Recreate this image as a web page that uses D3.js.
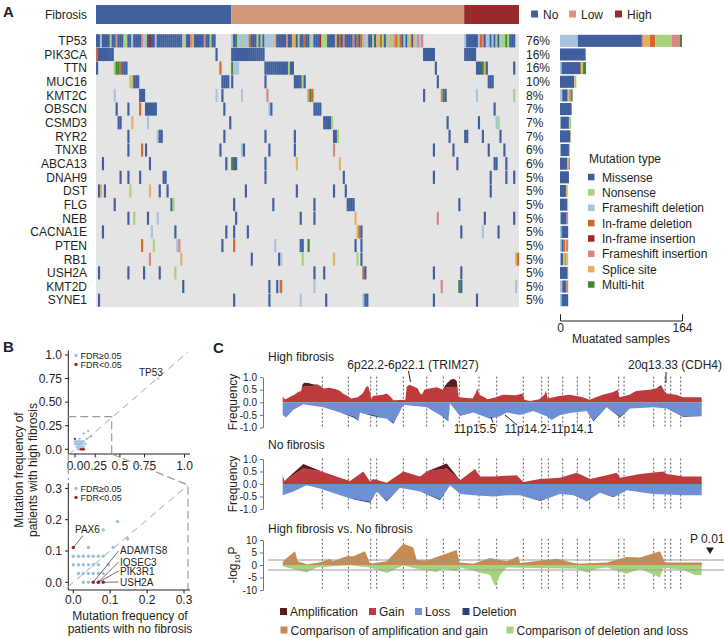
<!DOCTYPE html>
<html><head><meta charset="utf-8">
<script src="https://cdn.jsdelivr.net/npm/d3@7"></script>
<style>
body{margin:0;background:#fff}
svg{display:block}
text{font-family:"Liberation Sans",Arial,sans-serif;fill:#231f20}
</style></head>
<body><svg id="fig" width="724" height="638"></svg>
<script>
// ---------------- DATA ----------------
const genes = ["TP53","PIK3CA","TTN","MUC16","KMT2C","OBSCN","CSMD3","RYR2","TNXB","ABCA13","DNAH9","DST","FLG","NEB","CACNA1E","PTEN","RB1","USH2A","KMT2D","SYNE1"];
const genePct = ["76%","16%","16%","10%","8%","7%","7%","7%","6%","6%","5%","5%","5%","5%","5%","5%","5%","5%","5%","5%"];
const fibrosisGroups = ["No","Low","High"];
const fibrosisSizes = [69,119,28];
const typeCodes = ["M","N","F","D","I","P","S","H"];
const typeNames = ["Missense","Nonsense","Frameshift deletion","In-frame deletion","In-frame insertion","Frameshift insertion","Splice site","Multi-hit"];
// mutated samples per gene: "index[-index]TypeCode"
const geneMutations = [
"0-1M 2F 3-6M 7N 8-9M 10P 11-13M 14-15N 16-17M 18F 19-22M 23P 24F 25N 26M 27I 28-29M 30F 31-43M 44F 45N 46-47M 48P 49S 50-54M 55P 56-57M 58N 59-60M 69F 70M 71H 72-73F 74N 75-77F 78D 79-81M 82N 83M 84N 85M 86-90F 91S 92-96M 97P 98-99M 100-101S 102M 103N 104-105M 106D 107-108M 109N 110F 111-113M 114I 115-117N 118-121M 122S 123M 124D 125M 126P 127-130M 131P 132M 133D 134M 135D 136S 137-138F 139-140M 141N 142M 143S 144N 145D 146N 147M 148N 149F 150S 151N 152P 153D 154N 155D 156M 157F 158M 159N 160S 161M 162S 163F 164P 165F 166P 188F 189-194M 195F 196D 197P 198M 199-200F 201M 202F 203M 204N 205M 206F 207-208N 209H 210N 211-213M",
"0D 1-8M 61M 69-85M 167-172M 188-193M",
"0M 9N 10-11H 12D 13-15M 63D 69H 70-72F 86-97M 98N 99-100M 173M 194-196M 197H 198S 199M 213M",
"17N 18S 19-21M 64-67M 69M 86M 101-104M 105N 106M 174M 200-202M",
"9F 22-24M 61F 64M 74F 87P 108P 109H 110D 167M 176P 177H 178M 194F 213N",
"10M 16M 22D 25-30M 65M 88F 89M 111-114M 203M",
"11-12M 18S 26F 68M 116-119M 120N 179M 195M 204F 205N",
"16M 31F 32-33M 65M 86M 101M 121-122M 123N 180M 188-189M 197M 206M",
"16M 23D 25M 63M 74F 75M 88M 101M 121P 172M 182M 200M 208M",
"3M 27M 66M 69H 70-71M 86M 102S 124S 184M 203-204M 209M",
"12M 16M 22M 34-35M 86M 126M 172M 201M 209M 213M",
"1M 2S 4M 17N 27S 32M 36M 76M 102M 121M 127M 201M",
"9M 38M 39N 70M 90M 111M 128-131M 185M",
"16M 19N 26M 31F 71M 104M 111M 132S 174P 198M 213M",
"3M 28F 40M 66M 70M 77M 133S 134D 135M 186M 197F 205M",
"23D 29N 41F 42P 64M 70D 91F 104-105M 108H 132M 135M",
"27P 43S 79M 93M 94F 105N 121S 133N 135M 214S 215D",
"1M 16M 24M 32M 40N 111M 116M 136D 137M 172M 186M",
"44M 88M 92M 93F 94D 111F 176P 185H 186M 214F",
"1M 70M 88M 104F 117M 136F 137-138M 172M 194M"
];
// mutated-sample counts per type, per gene (same order as genes)
const barFrameshiftDel = [24,0,2,0,3,0,1,0,1,0,0,0,0,1,2,2,1,0,3,2];
const barMissense      = [86,34,25,19,7,15,11,14,11,10,12,8,10,8,9,3,3,10,5,9];
const barInframeIns    = [1,0,0,0,0,0,0,0,0,0,0,0,0,0,0,0,0,0,0,0];
const barSplice        = [10,0,0,1,0,0,1,0,0,2,0,2,0,0,0,0,3,0,0,0];
const barInframeDel    = [7,1,2,0,1,1,0,0,0,0,0,0,0,0,0,2,1,1,1,0];
const barNonsense      = [22,0,2,2,1,0,2,1,0,0,0,1,1,0,0,1,2,0,0,0];
const barFrameshiftIns = [11,0,0,0,3,0,0,0,1,0,0,0,0,2,0,2,1,0,1,0];
const barMultiHit      = [3,0,4,0,2,0,0,0,0,1,0,0,0,0,0,1,0,0,1,0];
const barMax = 164;

// Panel B: mutation frequency (no fibrosis, high fibrosis, FDR<0.05)
const scatterNo   = [0.76,0.120,0.081,0.147,0.041,0.108,0.000,0.014,0.027,0.041,0.054,0.068,0.081,0.000,0.014,0.027,0.041,0.054,0.068,0.095,0.014,0.027,0.041,0.054,0.068,0.081,0.027,0.041,0.000,0.054,0.068,0.068,0.081];
const scatterHigh = [0.75,0.194,0.167,0.139,0.111,0.111,0.083,0.083,0.083,0.083,0.083,0.083,0.083,0.056,0.056,0.056,0.056,0.056,0.056,0.056,0.028,0.028,0.028,0.028,0.028,0.028,0.000,0.000,0.111,0.000,0.000,0.000,0.000];
const scatterSig  = [0,0,0,0,0,0,0,0,0,0,0,0,0,0,0,0,0,0,0,0,0,0,0,0,0,0,0,0,1,1,1,1,1];
const sigLabels = ["PAX6","ADAMTS8","IQSEC3","PIK3R1","USH2A"];
const sigLabelIdx = [28,29,30,31,32];
const topYTicks = [0,0.25,0.5,0.75,1], topYTickLabels = ["0.0","0.25","0.50","0.75","1.0"];
const topXTickAt = [0,0.185,0.41,0.635,1], topXTickLabels = ["0.0","0.25","0.5","0.75","1.0"];
const zoomTicks = [0,0.1,0.2,0.3], zoomTickLabels = ["0.0","0.1","0.2","0.3"];

// Panel C: genome position (0-1257), copy-number frequencies
const chromBounds = [119,197,264,282,362,432,482,530,589,642,722,777,797,840,884,921,1008,1024,1113,1147,1164,1194];
const hiGainPos = [0,3,10,22,35,45,55,60,65,80,87,95,105,117,122,140,160,172,180,195,205,225,240,250,256,262,266,270,300,312,325,332,368,372,380,395,405,412,418,425,440,462,480,492,505,515,522,528,570,580,584,590,605,615,640,660,700,720,725,742,770,785,790,795,830,860,900,920,960,990,1005,1010,1040,1060,1100,1120,1135,1145,1152,1180,1200,1257];
const hiGain = [0.3,0.15,0.12,0.22,0.3,0.4,0.45,0.6,0.63,0.64,0.65,0.66,0.68,0.62,0.55,0.58,0.52,0.45,0.35,0.25,0.15,0.2,0.35,0.6,0.65,0.4,0.12,0.25,0.3,0.35,0.2,0.08,0.1,0.62,0.7,0.62,0.55,0.35,0.3,0.5,0.55,0.6,0.5,0.6,0.6,0.62,0.6,0.2,0.15,0.4,0.55,0.3,0.2,0.12,0.2,0.3,0.28,0.35,0.1,0.05,0.12,0.3,0.45,0.15,0.25,0.3,0.2,0.1,0.3,0.4,0.5,0.2,0.3,0.45,0.5,0.55,0.6,0.45,0.35,0.3,0.2,0.2];
const hiAmp  = [0,0,0,0,0,0,0,0.12,0.15,0.12,0.08,0.05,0.03,0,0,0,0,0,0,0,0,0,0,0,0,0,0,0,0,0,0,0,0,0,0,0,0,0,0,0,0,0,0,0.15,0.3,0.3,0.25,0,0,0,0,0,0,0,0,0,0,0,0,0,0,0,0,0,0,0,0,0,0,0,0,0,0,0,0,0,0.08,0,0,0,0,0];
const hiLossPos = [0,10,32,62,122,172,212,227,232,272,312,332,362,432,472,497,502,532,572,622,652,672,712,752,792,807,832,872,912,932,972,1012,1042,1112,1152,1202,1257];
const hiLoss = [0.5,0.6,0.3,0.08,0.2,0.4,0.55,0.7,0.4,0.5,0.65,0.8,0.1,0.2,0.5,0.7,0.05,0.5,0.4,0.65,0.55,0.4,0.5,0.35,0.55,0.7,0.5,0.4,0.35,0.7,0.2,0.55,0.25,0.2,0.25,0.55,0.55];
const hiDel  = [0,0,0,0,0,0,0.05,0.03,0,0.05,0,0.05,0,0,0,0.05,0,0.03,0,0,0,0,0,0,0,0,0,0,0,0.05,0,0.05,0,0,0,0.03,0];
const noGainPos = [0,5,62,117,172,202,242,262,272,312,362,412,432,492,532,577,592,632,702,722,772,832,882,922,972,1002,1012,1072,1142,1152,1202,1257];
const noGain = [0.35,0.12,0.62,0.5,0.25,0.12,0.5,0.1,0.2,0.05,0.5,0.3,0.5,0.62,0.15,0.6,0.3,0.3,0.35,0.08,0.2,0.25,0.45,0.2,0.35,0.45,0.25,0.4,0.5,0.4,0.3,0.3];
const noAmp  = [0,0,0.18,0,0,0,0,0,0,0,0,0,0,0.2,0,0,0,0,0,0,0,0,0,0,0,0,0,0,0,0,0,0];
const noLossPos = [0,32,72,117,172,217,262,282,312,352,412,472,502,532,572,632,672,712,772,832,872,912,952,992,1032,1112,1202,1257];
const noLoss = [0.45,0.3,0.05,0.2,0.45,0.6,0.7,0.3,0.65,0.15,0.3,0.6,0.05,0.4,0.45,0.5,0.45,0.45,0.65,0.4,0.45,0.65,0.35,0.5,0.25,0.4,0.45,0.45];
const noDel  = [0,0,0,0,0,0.03,0.05,0,0.05,0,0,0.05,0,0,0,0,0,0,0.03,0,0,0.03,0,0.03,0,0,0,0];
const cmpGainPos = [0,5,37,45,72,102,122,142,150,192,212,247,262,312,362,392,402,432,522,530,572,622,672,707,712,822,882,972,1032,1072,1132,1147,1257];
const cmpGain = [1,2,5.5,1.5,0.3,0.8,1.5,2.5,1.5,3.5,3.5,5.5,0.5,1.5,8.5,7,2,1.8,6,1,0.5,2.8,1.5,3.5,0.8,2.5,0.5,1,3.2,3,5.5,1,1];
const cmpLossPos = [0,72,102,152,202,262,312,362,402,462,480,522,532,622,637,652,672,882,912,942,972,1032,1072,1132,1142,1202,1237,1257];
const cmpLoss = [0.5,3,1,0.5,0.1,1,3.2,0.2,1.5,2.8,1.5,2.5,1,4,8.5,4,1,1.5,3,1.5,1,3.5,1.5,5,1,2,4,4];

// ---------------- STYLE ----------------
const typeColors = {M:"#3f5f9e",N:"#a9d07c",F:"#a8c3dc",D:"#d2692b",I:"#a82428",P:"#d98586",S:"#e3b062",H:"#3d8a32"};
const fibColors = ["#41609d","#d4997b","#992a2b"];
const svg = d3.select("#fig");

// ---------------- PANEL A ----------------
svg.append("text").attr("x",3).attr("y",17).attr("font-size",15).attr("font-weight","bold").text("A");
const nSamples = d3.sum(fibrosisSizes);
const xs = d3.scaleBand().domain(d3.range(nSamples)).range([96,519]);
const ys = d3.scaleBand().domain(genes).range([34,307]).paddingInner(0.04).paddingOuter(0.02);
let acc = 0;
fibrosisSizes.forEach((n,i)=>{
  svg.append("rect").attr("x",xs(acc)).attr("y",5).attr("width",xs.bandwidth()*n).attr("height",19).attr("fill",fibColors[i]);
  acc += n;
});
svg.append("text").attr("x",87).attr("y",19).attr("text-anchor","end").attr("font-size",12).text("Fibrosis");
const fibLegX = [531,569,615];
fibrosisGroups.forEach((g,i)=>{
  svg.append("rect").attr("x",fibLegX[i]).attr("y",10.5).attr("width",7).attr("height",7).attr("fill",fibColors[i]);
  svg.append("text").attr("x",fibLegX[i]+12).attr("y",19).attr("font-size",12).text(g);
});
svg.append("rect").attr("x",96).attr("y",34).attr("width",423).attr("height",273).attr("fill","#e4e4e4");
const cells = [];
geneMutations.forEach((str,gi)=>{
  str.trim().split(/\s+/).forEach(tok=>{
    const m = tok.match(/^(\d+)(?:-(\d+))?([A-Z])$/);
    const a=+m[1], b=m[2]?+m[2]:a;
    for(let s=a;s<=b;s++) cells.push({gene:genes[gi],s:s,t:m[3]});
  });
});
svg.append("g").selectAll("rect").data(cells).join("rect")
  .attr("x",d=>xs(d.s)).attr("y",d=>ys(d.gene))
  .attr("width",xs.bandwidth()+0.2).attr("height",ys.bandwidth())
  .attr("fill",d=>typeColors[d.t]);
genes.forEach((g,i)=>{
  const cy = ys(g)+ys.bandwidth()/2;
  svg.append("text").attr("x",87).attr("y",cy+4.3).attr("text-anchor","end").attr("font-size",12).text(g);
  svg.append("text").attr("x",526).attr("y",cy+4.3).attr("font-size",12).text(genePct[i]);
});
const barKeys = ["F","M","I","S","D","N","P","H"];
const barSeries = {F:barFrameshiftDel,M:barMissense,I:barInframeIns,S:barSplice,D:barInframeDel,N:barNonsense,P:barFrameshiftIns,H:barMultiHit};
const barRows = genes.map((g,i)=>{const o={gene:g}; barKeys.forEach(k=>o[k]=barSeries[k][i]); return o;});
const stack = d3.stack().keys(barKeys)(barRows);
const xb = d3.scaleLinear().domain([0,barMax]).range([560,682]);
svg.append("g").selectAll("g").data(stack).join("g").attr("fill",d=>typeColors[d.key])
  .selectAll("rect").data(d=>d).join("rect")
  .attr("x",d=>xb(d[0])).attr("width",d=>Math.max(0,xb(d[1])-xb(d[0])))
  .attr("y",d=>ys(d.data.gene)+0.5).attr("height",ys.bandwidth()-1);
const barAxis = svg.append("g").attr("transform","translate(0,320.5)")
  .call(d3.axisBottom(xb).tickValues([0,barMax]).tickSizeInner(-6).tickSizeOuter(-6).tickPadding(3));
barAxis.selectAll("path,line").attr("stroke","#231f20");
barAxis.selectAll("text").attr("font-size",12).attr("font-family","Liberation Sans, Arial, sans-serif").attr("fill","#231f20");
svg.append("text").attr("x",621).attr("y",343).attr("text-anchor","middle").attr("font-size",12).text("Muatated samples");
svg.append("text").attr("x",589).attr("y",163).attr("font-size",12).text("Mutation type");
typeCodes.forEach((c,i)=>{
  const y = 177.3 + i*15.35;
  svg.append("rect").attr("x",588).attr("y",y-3.5).attr("width",6.5).attr("height",6.5).attr("fill",typeColors[c]);
  svg.append("text").attr("x",602).attr("y",y+4.3).attr("font-size",12).text(typeNames[i]);
});

// ---------------- PANEL B ----------------
svg.append("text").attr("x",3).attr("y",352).attr("font-size",15).attr("font-weight","bold").text("B");
const ptBlue="#9dbfdc", ptRed="#a3252a", dashC="#a6a6a6";
const xT = d3.scaleLinear().domain([0,1]).range([75,184.5]);
const yT = d3.scaleLinear().domain([0,1]).range([449.3,355]);
const gB = svg.append("g");
gB.append("line").attr("x1",68.3).attr("x2",68.3).attr("y1",350.5).attr("y2",454).attr("stroke","#231f20");
gB.append("line").attr("x1",68.3).attr("x2",190).attr("y1",454).attr("y2",454).attr("stroke","#231f20");
topYTicks.forEach((t,i)=>{
  gB.append("line").attr("x1",65).attr("x2",68.3).attr("y1",yT(t)).attr("y2",yT(t)).attr("stroke","#231f20");
  gB.append("text").attr("x",62).attr("y",yT(t)+4.3).attr("text-anchor","end").attr("font-size",12).text(topYTickLabels[i]);
});
topXTickAt.forEach((t,i)=>{
  gB.append("line").attr("x1",xT(t)).attr("x2",xT(t)).attr("y1",454).attr("y2",457.5).attr("stroke","#231f20");
  gB.append("text").attr("x",xT(t)).attr("y",470).attr("text-anchor","middle").attr("font-size",12).text(topXTickLabels[i]);
});
gB.append("line").attr("x1",xT(-0.06)).attr("y1",yT(-0.06)).attr("x2",xT(1.03)).attr("y2",yT(1.03)).attr("stroke",dashC).attr("stroke-dasharray","7,5");
gB.append("path").attr("d",`M68.3,${yT(0.346)}H${xT(0.335)}V454`).attr("fill","none").attr("stroke","#999").attr("stroke-width",1.2).attr("stroke-dasharray","8,4");
gB.append("path").attr("d",`M${xT(0.335)},454L188,485V590`).attr("fill","none").attr("stroke","#999").attr("stroke-width",1.2).attr("stroke-dasharray","8,4");
gB.append("path").attr("d",`M68.3,454V480`).attr("fill","none").attr("stroke","#999").attr("stroke-width",1.2).attr("stroke-dasharray","8,4");
const pts = scatterNo.map((v,i)=>({x:v,y:scatterHigh[i],sig:scatterSig[i]}));
gB.append("g").selectAll("circle").data(pts).join("circle")
  .attr("cx",d=>xT(d.x)).attr("cy",d=>yT(d.y)).attr("r",1.2).attr("fill",d=>d.sig?ptRed:ptBlue);
gB.append("text").attr("x",139).attr("y",376).attr("font-size",10).text("TP53");
const xL = d3.scaleLinear().domain([0,0.3]).range([73.3,184]);
const yL = d3.scaleLinear().domain([0,0.3]).range([582.3,488.4]);
gB.append("line").attr("x1",68.3).attr("x2",68.3).attr("y1",483).attr("y2",590).attr("stroke","#231f20");
gB.append("line").attr("x1",68.3).attr("x2",190).attr("y1",590).attr("y2",590).attr("stroke","#231f20");
zoomTicks.forEach((t,i)=>{
  gB.append("line").attr("x1",65).attr("x2",68.3).attr("y1",yL(t)).attr("y2",yL(t)).attr("stroke","#231f20");
  gB.append("text").attr("x",62).attr("y",yL(t)+4.3).attr("text-anchor","end").attr("font-size",12).text(zoomTickLabels[i]);
  gB.append("line").attr("x1",xL(t)).attr("x2",xL(t)).attr("y1",590).attr("y2",593.5).attr("stroke","#231f20");
  gB.append("text").attr("x",xL(t)).attr("y",604).attr("text-anchor","middle").attr("font-size",12).text(zoomTickLabels[i]);
});
gB.append("line").attr("x1",xL(-0.015)).attr("y1",yL(-0.015)).attr("x2",xL(0.31)).attr("y2",yL(0.31)).attr("stroke",dashC).attr("stroke-dasharray","7,5");
const ptsL = pts.filter(d=>d.x<=0.3 && d.y<=0.3);
gB.append("g").selectAll("circle").data(ptsL).join("circle")
  .attr("cx",d=>xL(d.x)).attr("cy",d=>yL(d.y)).attr("r",1.7).attr("fill",d=>d.sig?ptRed:ptBlue);
const labPos = [[75,533,83,535.5],[120,554,118.5,551],[120,565.5,118.5,562],[120,575,118.5,571],[120,585.5,118.5,582]];
sigLabels.forEach((l,i)=>{
  const p = pts[sigLabelIdx[i]];
  gB.append("line").attr("x1",xL(p.x)).attr("y1",yL(p.y)).attr("x2",labPos[i][2]).attr("y2",labPos[i][3]).attr("stroke","#333").attr("stroke-width",0.7);
  gB.append("text").attr("x",labPos[i][0]).attr("y",labPos[i][1]).attr("font-size",10).text(l);
});
[[355.5,364.5],[488.5,497.5]].forEach(ly=>{
  gB.append("circle").attr("cx",76).attr("cy",ly[0]).attr("r",1.7).attr("fill",ptBlue);
  gB.append("text").attr("x",80.5).attr("y",ly[0]+3.2).attr("font-size",9).text("FDR≥0.05");
  gB.append("circle").attr("cx",76).attr("cy",ly[1]).attr("r",1.7).attr("fill",ptRed);
  gB.append("text").attr("x",80.5).attr("y",ly[1]+3.2).attr("font-size",9).text("FDR<0.05");
});
gB.append("text").attr("transform","translate(23,470) rotate(-90)").attr("text-anchor","middle").attr("font-size",12).text("Mutation frequency of");
gB.append("text").attr("transform","translate(37,470) rotate(-90)").attr("text-anchor","middle").attr("font-size",12).text("patients with high fibrosis");
gB.append("text").attr("x",130).attr("y",620).attr("text-anchor","middle").attr("font-size",12).text("Mutation frequency of");
gB.append("text").attr("x",130).attr("y",633).attr("text-anchor","middle").attr("font-size",12).text("patients with no fibrosis");

// ---------------- PANEL C ----------------
svg.append("text").attr("x",213).attr("y",353).attr("font-size",15).attr("font-weight","bold").text("C");
const gC = svg.append("g");
const xC = d3.scaleLinear().domain([0,1257]).range([282.7,701.7]);
const cnCol = {amp:"#5b1a1c",gain:"#bf3a3c",loss:"#6d8fd3",del:"#2c3f7c",cmpG:"#c78a52",cmpL:"#a6d27e"};
function fmtTick(d){ return (d<0?"-":"")+Math.abs(d).toFixed(1); }
function cnTrack(yScale, gPos, gain, amp, lPos, loss, del){
  chromBounds.forEach(b=>{
    gC.append("line").attr("x1",xC(b)).attr("x2",xC(b)).attr("y1",yScale(1.02)).attr("y2",yScale(-1.05))
      .attr("stroke","#333").attr("stroke-width",0.8).attr("stroke-dasharray","2,2");
  });
  const gd = gPos.map((p,i)=>({p,g:gain[i],a:amp[i]}));
  const ld = lPos.map((p,i)=>({p,l:loss[i],d:del[i]}));
  gC.append("path").datum(gd).attr("fill",cnCol.gain).attr("d",d3.area().x(d=>xC(d.p)).y0(yScale(0)).y1(d=>yScale(d.g)));
  gC.append("path").datum(gd).attr("fill",cnCol.amp).attr("d",d3.area().x(d=>xC(d.p)).y0(d=>yScale(d.g)).y1(d=>yScale(d.g+d.a)));
  gC.append("path").datum(ld).attr("fill",cnCol.loss).attr("d",d3.area().x(d=>xC(d.p)).y0(yScale(0)).y1(d=>yScale(-d.l)));
  gC.append("path").datum(ld).attr("fill",cnCol.del).attr("d",d3.area().x(d=>xC(d.p)).y0(d=>yScale(-d.l)).y1(d=>yScale(-d.l-d.d)));
  const ax = gC.append("g").attr("transform","translate(263,0)")
    .call(d3.axisLeft(yScale).tickValues([-1,-0.5,0,0.5,1]).tickFormat(fmtTick).tickSize(3).tickSizeOuter(0));
  ax.selectAll("path,line").attr("stroke","#777");
  ax.selectAll("text").attr("font-size",10).attr("fill","#333").attr("font-family","Liberation Sans, Arial, sans-serif");
}
const yC1 = d3.scaleLinear().domain([-1,1]).range([427.5,377.1]);
const yC2 = d3.scaleLinear().domain([-1,1]).range([509,459]);
const yC3 = d3.scaleLinear().domain([-10,10]).range([590,540]);
cnTrack(yC1, hiGainPos, hiGain, hiAmp, hiLossPos, hiLoss, hiDel);
cnTrack(yC2, noGainPos, noGain, noAmp, noLossPos, noLoss, noDel);
chromBounds.forEach(b=>{
  gC.append("line").attr("x1",xC(b)).attr("x2",xC(b)).attr("y1",yC3(10.5)).attr("y2",yC3(-10))
    .attr("stroke","#333").attr("stroke-width",0.8).attr("stroke-dasharray","2,2");
});
gC.append("path").datum(cmpGainPos.map((p,i)=>({p,v:cmpGain[i]}))).attr("fill",cnCol.cmpG)
  .attr("d",d3.area().x(d=>xC(d.p)).y0(yC3(0)).y1(d=>yC3(d.v)));
gC.append("path").datum(cmpLossPos.map((p,i)=>({p,v:cmpLoss[i]}))).attr("fill",cnCol.cmpL)
  .attr("d",d3.area().x(d=>xC(d.p)).y0(yC3(0)).y1(d=>yC3(-d.v)));
[2,-2].forEach(v=>gC.append("line").attr("x1",268).attr("x2",724).attr("y1",yC3(v)).attr("y2",yC3(v)).attr("stroke","#9a9a9a").attr("stroke-width",1));
const ax3 = gC.append("g").attr("transform","translate(263,0)")
  .call(d3.axisLeft(yC3).tickValues([-10,-5,0,5,10]).tickFormat(d=>(d<0?"-":"")+Math.abs(d)).tickSize(3).tickSizeOuter(0));
ax3.selectAll("path,line").attr("stroke","#777");
ax3.selectAll("text").attr("font-size",10).attr("fill","#333").attr("font-family","Liberation Sans, Arial, sans-serif");
gC.append("text").attr("x",690).attr("y",543).attr("font-size",12).text("P 0.01");
gC.append("path").attr("d","M706,547.5L714,547.5L710,554Z").attr("fill","#231f20");
gC.append("text").attr("x",268).attr("y",361).attr("font-size",12).text("High fibrosis");
gC.append("text").attr("x",268).attr("y",449).attr("font-size",12).text("No fibrosis");
gC.append("text").attr("x",268).attr("y",533).attr("font-size",12).text("High fibrosis vs. No fibrosis");
gC.append("text").attr("transform","translate(237,402) rotate(-90)").attr("text-anchor","middle").attr("font-size",12).text("Frequency");
gC.append("text").attr("transform","translate(237,484) rotate(-90)").attr("text-anchor","middle").attr("font-size",12).text("Frequency");
const lg = gC.append("text").attr("transform","translate(237,565) rotate(-90)").attr("text-anchor","middle").attr("font-size",12);
lg.append("tspan").text("-log");
lg.append("tspan").attr("font-size",8).attr("dy",3).text("10");
lg.append("tspan").attr("dy",-3).text("P");
gC.append("text").attr("x",413).attr("y",369).attr("text-anchor","middle").attr("font-size",12).text("6p22.2-6p22.1 (TRIM27)");
gC.append("line").attr("x1",408.5).attr("y1",371).attr("x2",410.5).attr("y2",382).attr("stroke","#231f20");
gC.append("text").attr("x",675).attr("y",369).attr("text-anchor","middle").attr("font-size",12).text("20q13.33 (CDH4)");
gC.append("line").attr("x1",666).attr("y1",372).attr("x2",666).attr("y2",383).attr("stroke","#231f20");
gC.append("text").attr("x",475).attr("y",433).attr("text-anchor","middle").attr("font-size",12).text("11p15.5");
gC.append("line").attr("x1",491).attr("y1",417).attr("x2",493).attr("y2",422.5).attr("stroke","#231f20");
gC.append("text").attr("x",549).attr("y",433).attr("text-anchor","middle").attr("font-size",12).text("11p14.2-11p14.1");
gC.append("line").attr("x1",505).attr("y1",415).attr("x2",517).attr("y2",425).attr("stroke","#231f20");
const legC1 = [["Amplification",cnCol.amp,280],["Gain",cnCol.gain,369],["Loss",cnCol.loss,415],["Deletion",cnCol.del,462.5]];
legC1.forEach(l=>{
  gC.append("rect").attr("x",l[2]).attr("y",608).attr("width",7).attr("height",7).attr("fill",l[1]);
  gC.append("text").attr("x",l[2]+10).attr("y",616).attr("font-size",12).text(l[0]);
});
const legC2 = [["Comparison of amplification and gain",cnCol.cmpG,280.5],["Comparison of deletion and loss",cnCol.cmpL,506.5]];
legC2.forEach(l=>{
  gC.append("rect").attr("x",l[2]).attr("y",626.5).attr("width",7).attr("height",7).attr("fill",l[1]);
  gC.append("text").attr("x",l[2]+10).attr("y",634.5).attr("font-size",12).text(l[0]);
});
</script></body></html>
